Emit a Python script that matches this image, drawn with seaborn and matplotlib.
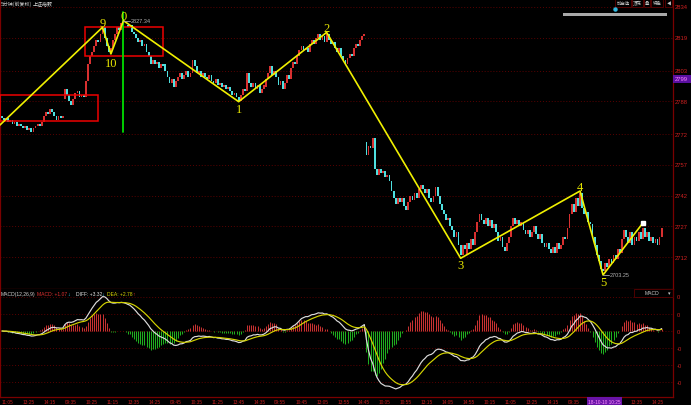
import numpy as np
import pandas as pd
import matplotlib
matplotlib.use("Agg")
import matplotlib.pyplot as plt
from matplotlib.patches import Rectangle
import seaborn as sns

# ---------------- data (5-minute bars, Shanghai Composite) ----------------
day_a = [2780, 2779, 2780, 2778, 2779, 2777, 2778, 2776, 2777, 2776,
         2775, 2776, 2774, 2775, 2773, 2775, 2776, 2777, 2776, 2778,
         2781, 2783, 2782, 2784, 2783, 2781, 2779, 2781, 2780, 2781]
day_b = [2794, 2791, 2788, 2786, 2789, 2792, 2793, 2790, 2791, 2790,
         2798, 2806, 2810, 2812, 2815, 2818, 2817, 2821, 2824, 2819,
         2815, 2812, 2814, 2818, 2821, 2824, 2823, 2826, 2825, 2825,
         2824, 2825, 2822, 2821, 2819, 2817, 2818, 2815, 2816, 2812,
         2810, 2806, 2808, 2806, 2807, 2804, 2806, 2805]
day_c = [2803, 2800, 2797, 2799, 2795, 2798, 2800, 2802, 2799, 2801,
         2803, 2800, 2802, 2808, 2805, 2802, 2803, 2800, 2802, 2800,
         2799, 2801, 2798, 2797, 2799, 2796, 2797, 2795, 2796, 2794,
         2795, 2793, 2791, 2792, 2790, 2788, 2791, 2794, 2793, 2802,
         2797, 2795, 2797, 2794, 2796, 2792, 2794, 2796]
day_d = [2799, 2802, 2805, 2801, 2803, 2800, 2796, 2798, 2794, 2797,
         2801, 2799, 2804, 2807, 2806, 2810, 2813, 2815, 2813, 2814,
         2812, 2816, 2818, 2816, 2819, 2821, 2818, 2820, 2817, 2821,
         2818, 2816, 2817, 2814, 2812, 2814, 2810, 2808, 2806, 2809,
         2811, 2810, 2814, 2816, 2815, 2818, 2820, 2821]
day_e = [2762, 2766, 2765, 2770, 2755, 2752, 2755, 2753, 2754, 2751,
         2752, 2749, 2744, 2741, 2738, 2741, 2739, 2741, 2737, 2735,
         2739, 2742, 2740, 2743, 2741, 2745, 2747, 2745, 2743, 2745,
         2741, 2739, 2742, 2746, 2742, 2738, 2735, 2733, 2730, 2731,
         2727, 2725, 2722, 2724, 2718, 2713, 2718, 2716]
day_f = [2719, 2716, 2721, 2718, 2724, 2729, 2733, 2730, 2728, 2731,
         2727, 2730, 2726, 2728, 2724, 2720, 2722, 2717, 2715, 2719,
         2722, 2727, 2731, 2728, 2730, 2727, 2729, 2725, 2723, 2725,
         2722, 2724, 2727, 2723, 2721, 2723, 2719, 2717, 2719, 2716,
         2714, 2717, 2714, 2719, 2716, 2718, 2722, 2721]
day_g = [2726, 2733, 2738, 2734, 2741, 2737, 2743, 2736, 2733, 2734,
         2729, 2728, 2722, 2718, 2713, 2710, 2706, 2705, 2709, 2707,
         2711, 2709, 2713, 2711, 2716, 2714, 2721, 2725, 2722, 2719,
         2724, 2718, 2722, 2720, 2724, 2721, 2726, 2722, 2724, 2720,
         2722, 2719, 2721, 2718, 2722, 2726]
day_opens = [2781, 2789, 2806, 2795, 2768, 2713, 2721]

price_ticks = [2834, 2819, 2803, 2788, 2772, 2757, 2742, 2727, 2712]
macd_ticks = [10, 5, 0, -5, -10, -15]
macd_tick_labels = ["0", "0", "0", "-0", "-0", "-0"]
time_labels = ["11:05", "13:25", "14:15", "09:35", "10:25", "11:15", "13:35", "14:25",
               "09:45", "10:35", "11:25", "13:45", "14:35", "09:55", "10:45", "13:05",
               "13:55", "14:45", "10:05", "10:55", "13:15", "14:05", "14:55", "10:15",
               "11:05", "13:25", "14:15", "09:35", "10:25", "11:15", "13:35", "14:25"]
zig_bars = [-1, 48, 52, 58, 113, 155, 219, 276, 287, 306]
zig_prices = [2776.4, 2824.1, 2811.1, 2827.34, 2787.8, 2821.6, 2711.4, 2744.2, 2703.25, 2728.6]
zig_names = ["", "9", "10", "0", "1", "2", "3", "4", "5", ""]
zig_label_prices = [None, 2826.4, 2806.7, 2829.6, 2784.2, 2823.8, 2708.0, 2746.3, 2699.6, None]

# ---------------- build OHLC ----------------
days = [day_a, day_b, day_c, day_d, day_e, day_f, day_g]
closes, opens = [], []
for d, op in zip(days, day_opens):
    for i, c in enumerate(d):
        opens.append(op if i == 0 else d[i - 1])
        closes.append(c)
closes = np.array(closes, float)
opens = np.array(opens, float)
bars = np.arange(len(closes))

df = pd.DataFrame({"bar": bars, "close": closes})
ema12 = df["close"].ewm(span=12, adjust=False).mean()
ema26 = df["close"].ewm(span=26, adjust=False).mean()
df["diff"] = ema12 - ema26
df["dea"] = df["diff"].ewm(span=9, adjust=False).mean()
df["macd"] = 2 * (df["diff"] - df["dea"])

# ---------------- figure ----------------
sns.set_theme(style="dark")
plt.rcParams["font.family"] = ["Liberation Sans", "DejaVu Sans"]
W, H = 691, 406
fig = plt.figure(figsize=(W / 100, H / 100), dpi=100, facecolor="black")

def fpx(x, y):
    return x / W, 1 - y / H

BORDER = "#7a0000"
GRID = "#5a0000"
XL = (-0.96, 320.4)

ax = fig.add_axes([0, 1 - 290 / H, 673 / W, 290 / H], facecolor="black")
axm = fig.add_axes([0, 1 - 398 / H, 673 / W, 108 / H], facecolor="black")
for a in (ax, axm):
    a.set_xlim(*XL)
    a.set_xticks([])
    a.set_yticks([])
    a.grid(False)
    for s in a.spines.values():
        s.set_color(BORDER)
        s.set_linewidth(0.9)
    a.spines["top"].set_visible(False)

ax.set_ylim(2696.4, 2837.9)
axm.set_ylim(-19.4, 12.35)

# grid lines
for p in price_ticks:
    ax.axhline(p, color=GRID, lw=0.7, ls=(0, (1, 2)), zorder=0)
    ax.text(1.003, p, str(p), transform=ax.get_yaxis_transform(), color="#d02020",
            fontsize=4.2, va="center", ha="left", clip_on=False)
for v, s in zip(macd_ticks, macd_tick_labels):
    axm.axhline(v, color=GRID, lw=0.7, ls=(0, (1, 2)), zorder=0)
    axm.text(1.005, v, s, transform=axm.get_yaxis_transform(), color="#c02020",
             fontsize=4.2, va="center", ha="left", clip_on=False)

# candles
up = closes >= opens
body = np.maximum(np.abs(closes - opens), 0.4)
low = np.minimum(opens, closes)
ax.bar(bars[up], body[up], bottom=low[up], width=0.86, color="#d83030", linewidth=0, zorder=2)
ax.bar(bars[~up], body[~up], bottom=low[~up], width=0.86, color="#4ee0e0", linewidth=0, zorder=2)

# red boxes
for x0, x1, y0, y1 in [(-1, 46, 2778.4, 2791.1), (39.6, 77, 2810.1, 2824.2)]:
    ax.add_patch(Rectangle((x0, y0), x1 - x0, y1 - y0, fill=False, ec="#ee0000", lw=1.1, zorder=3))

# green vertical marker at the top
ax.plot([58, 58], [2773.0, 2831.6], color="#00dd00", lw=1.3, zorder=3)

# zigzag
zz = pd.DataFrame({"bar": zig_bars, "price": zig_prices})
sns.lineplot(data=zz, x="bar", y="price", sort=False, color="#f0f000", lw=1.2, ax=ax, zorder=4)
for b, n, lp in zip(zig_bars, zig_names, zig_label_prices):
    if n:
        ax.text(b, lp, n, color="#e8e800", fontsize=9, family="Liberation Serif",
                ha="center", va="center", zorder=5)
ax.plot([zig_bars[-1]], [zig_prices[-1]], marker="s", ms=2.5, color="white", zorder=6)

# extreme price notes
ax.plot([58, 61], [2827.34, 2827.34], color="#aaaaaa", lw=0.6, zorder=5)
ax.text(61.3, 2827.34, "2827.34", color="#b0b0b0", fontsize=4, va="center", ha="left", zorder=5)
ax.plot([287, 290], [2703.25, 2703.25], color="#aaaaaa", lw=0.6, zorder=5)
ax.text(290.3, 2703.25, "2703.25", color="#b0b0b0", fontsize=4, va="center", ha="left", zorder=5)
ax.set_xlabel("")
ax.set_ylabel("")

# MACD panel
hist = df["macd"].values
colors = np.where(hist >= 0, "#c83232", "#1fae1f")
axm.vlines(bars, 0, hist, colors=colors, lw=0.75, zorder=2)
sns.lineplot(data=df, x="bar", y="diff", color="#dcdcdc", lw=0.85, ax=axm, zorder=3)
sns.lineplot(data=df, x="bar", y="dea", color="#d4d400", lw=0.85, ax=axm, zorder=3)
axm.set_xlabel("")
axm.set_ylabel("")

# time labels
for i, t in enumerate(time_labels):
    if i in (28, 29):
        continue
    axm.text(i * 10, -0.015, t, transform=axm.get_xaxis_transform(), color="#c82020",
             fontsize=3.4, ha="left", va="top", clip_on=False)
axm.text(280, -0.015, "18-10-10 10:25", transform=axm.get_xaxis_transform(), color="#ff90ff",
         fontsize=3.4, ha="left", va="top", clip_on=False,
         bbox=dict(boxstyle="square,pad=0.25", fc="#6a14a8", ec="none"))

# title of the price panel
cjk = ["Noto Sans CJK SC", "DejaVu Sans"]
fig.text(*fpx(1, 4.5), "5分钟(前复权)", color="#c8c8c8", fontsize=3.6, family=cjk, va="center", ha="left")
fig.text(*fpx(33, 4.5), "上证指数", color="#e0e0e0", fontsize=3.6, family=cjk, va="center", ha="left")

# toolbar buttons (top right)
for x0, x1, lab in [(615, 631, "加自选"), (632, 643, "顶底"), (644, 650, "叠"), (651, 663, "特色"), (665, 672, "◀")]:
    fig.add_artist(Rectangle(fpx(x0, 7.5), (x1 - x0) / W, 7.5 / H, transform=fig.transFigure,
                             fill=False, ec="#5a0000", lw=0.6))
    fig.text(*fpx((x0 + x1) / 2, 3.6), lab, color="#c8c8c8", fontsize=3.2, family=cjk,
             ha="center", va="center")
# scroll bar
fig.add_artist(Rectangle(fpx(563, 16.5), 104 / W, 3 / H, transform=fig.transFigure,
                         fc="#a8a8a8", ec="none"))
fig.add_artist(plt.Line2D([615 / W], [1 - 10 / H], marker="o", ms=2.2, color="#30b8e0",
                          transform=fig.transFigure))

# highlighted price label on the right axis
fig.add_artist(Rectangle(fpx(673, 83.5), 18 / W, 8 / H, transform=fig.transFigure,
                         fc="#5a10a0", ec="none"))
fig.text(*fpx(675, 79.5), "2799", color="#ff80ff", fontsize=4.2, va="center", ha="left")

# MACD header
fig.add_artist(Rectangle(fpx(634, 298), 39 / W, 8 / H, transform=fig.transFigure,
                         fill=False, ec="#5a0000", lw=0.6))
fig.text(*fpx(652, 294), "MACD", color="#c8c8c8", fontsize=3.6, ha="center", va="center")
fig.text(*fpx(669, 294), "▾", color="#c8c8c8", fontsize=3.6, family="DejaVu Sans", ha="center", va="center")
parts = [(1, "MACD(12,26,9)", "#d0d0d0"), (37, "MACD: +1.07", "#e03030"), (67, "↓", "#30d0f0"),
         (76, "DIFF: +3.32", "#e0e0e0"), (101, "↓", "#30d0f0"), (107, "DEA: +2.78", "#d8d800"),
         (132, "↑", "#e03030")]
for x, s, c in parts:
    fig.text(*fpx(x, 294.5), s, color=c, fontsize=3.6, family=["Liberation Sans", "DejaVu Sans"],
             ha="left", va="center")

fig.savefig("out.png", dpi=100, facecolor="black")
